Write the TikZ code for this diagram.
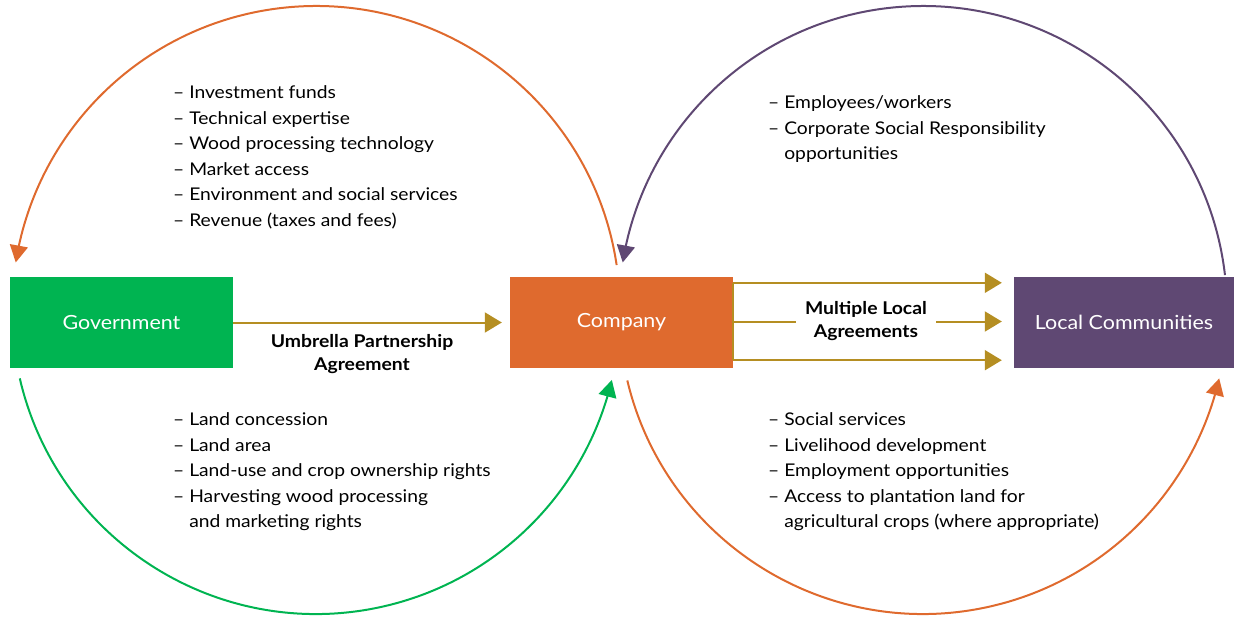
\documentclass[tikz,border=0pt]{standalone}
\usepackage{fontspec}
\setmainfont{Lato}[FakeStretch=1.1]
\usetikzlibrary{arrows.meta,calc,bending}
\definecolor{cgreen}{HTML}{00B451}
\definecolor{corange}{HTML}{DF6A2E}
\definecolor{cpurple}{HTML}{5F4873}
\definecolor{cgold}{HTML}{B58E22}
\begin{document}
\begin{tikzpicture}[x=1pt,y=-1pt,
  box/.style={draw=none,minimum width=223pt,minimum height=91pt,inner sep=0pt,text=white,font=\fontsize{19.5}{22}\selectfont},
  lst/.style={anchor=north west,align=left,inner sep=0pt,font=\fontsize{17.5}{25.5}\selectfont},
  lbl/.style={align=center,inner sep=0pt,font=\bfseries\fontsize{17.6}{23}\selectfont},
  tip/.style={-{Triangle[length=17pt,width=18pt,flex]}},
  arc/.style={line width=2pt,tip},
  goldarr/.style={draw=cgold,line width=2pt,-{Triangle[length=17pt,width=20pt]}}]
\useasboundingbox (0,0) rectangle (1234,616);
\node[box,fill=cgreen] (gov) at (121.5,322.5) {Government};
\node[box,fill=corange] (comp) at (621.5,322.5) {Company};
\node[box,fill=cpurple,minimum width=220pt] (loc) at (1124,322.5) {Local Communities};
% circle centres
\coordinate (cl) at (316,310);
\coordinate (cr) at (923,310);
% left circle arcs
\draw[arc,corange] ($(cl)+(-8.5:304)$) arc[start angle=-8.5,end angle=-171,radius=304];
\draw[arc,cgreen] ($(cl)+(167:304)$) arc[start angle=167,end angle=13.3,radius=304];
% right circle arcs
\draw[arc,cpurple] ($(cr)+(-6.6:304)$) arc[start angle=-6.6,end angle=-171,radius=304];
\draw[arc,corange] ($(cr)+(166.6:304)$) arc[start angle=166.6,end angle=13,radius=304];
% gov -> company
\draw[goldarr,shorten >=8pt] (gov) -- (comp);
\node[lbl] (umb) at (362,354.5) {Umbrella Partnership\\Agreement};
% company -> local communities
\coordinate (b1) at ($(comp.north east)+(0,6)$);
\coordinate (b3) at ($(comp.south east)+(0,-8)$);
\coordinate (b2) at ($(comp.east)+(0,-1)$);
\draw[cgold,line width=2pt] (b1) -- (b3);
\draw[goldarr,shorten >=12pt] (b1) -- (b1 -| loc.west);
\draw[goldarr,shorten >=12pt] (b2) -- (b2 -| loc.west);
\draw[goldarr,shorten >=12pt] (b3) -- (b3 -| loc.west);
\node[lbl,fill=white,inner xsep=9pt,inner ysep=2pt] (mla) at (866,321.5) {Multiple Local\\Agreements};
% lists
\node[lst] (l1) at (173,85.5) {– Investment funds\\– Technical expertise\\– Wood processing technology\\– Market access\\– Environment and social services\\– Revenue (taxes and fees)};
\node[lst] (l2) at (173,412.5) {– Land concession\\– Land area\\– Land-use and crop ownership rights\\– Harvesting wood processing\\\hphantom{– }and marketing rights};
\node[lst] (l3) at (768,95.5) {– Employees/workers\\– Corporate Social Responsibility\\\hphantom{– }opportunities};
\node[lst] (l4) at (768,412.5) {– Social services\\– Livelihood development\\– Employment opportunities\\– Access to plantation land for\\\hphantom{– }agricultural crops (where appropriate)};
\end{tikzpicture}
\end{document}
